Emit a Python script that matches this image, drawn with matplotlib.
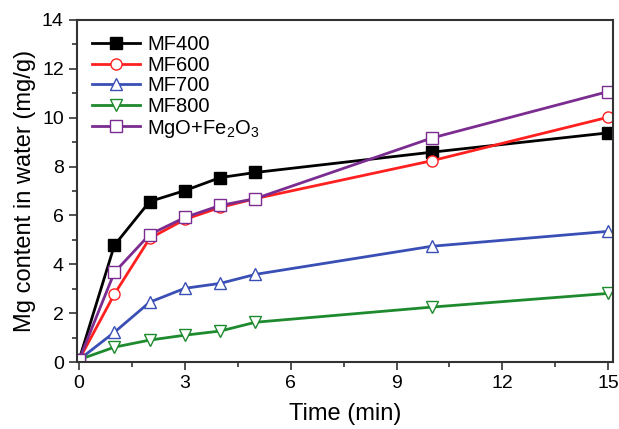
import matplotlib
matplotlib.use("Agg")
import matplotlib.pyplot as plt
from matplotlib.ticker import MultipleLocator

plt.rcParams['font.family'] = ['Liberation Sans', 'DejaVu Sans']
plt.rcParams['mathtext.fontset'] = 'custom'
plt.rcParams['mathtext.rm'] = 'Liberation Sans'

time = [0, 1, 2, 3, 4, 5, 10, 15]
mf400 = [0.1, 4.78, 6.57, 7.02, 7.55, 7.76, 8.59, 9.38]
mf600 = [0.1, 2.78, 5.06, 5.84, 6.33, 6.69, 8.24, 10.02]
mf700 = [0.1, 1.22, 2.45, 3.02, 3.22, 3.59, 4.74, 5.35]
mf800 = [0.1, 0.61, 0.90, 1.10, 1.27, 1.63, 2.25, 2.81]
mgo = [0.1, 3.67, 5.22, 5.92, 6.41, 6.69, 9.17, 11.07]
labels = ['MF400', 'MF600', 'MF700', 'MF800', r'MgO+Fe$_2$O$_3$']

fig = plt.figure(figsize=(6.19, 4.29), dpi=100)
ax = fig.add_axes([0.1244, 0.156, 0.8666, 0.7974])

lw = 2.0
ms = 8
ax.plot(time, mf400, color='black', marker='s', ms=ms, lw=lw, mfc='black', mec='black', label=labels[0])
ax.plot(time, mf600, color='#ff2020', marker='o', ms=ms, lw=lw, mfc='white', mec='#ff2020', label=labels[1])
ax.plot(time, mf700, color='#3a4fb5', marker='^', ms=ms + 1, lw=lw, mfc='white', mec='#3a4fb5', label=labels[2])
ax.plot(time, mf800, color='#1e8a2e', marker='v', ms=ms + 1, lw=lw, mfc='white', mec='#1e8a2e', label=labels[3])
ax.plot(time, mgo, color='#7b2c90', marker='s', ms=ms, lw=lw, mfc='white', mec='#7b2c90', label=labels[4])

ax.set_xlim(-0.06, 15.15)
ax.set_ylim(0, 14)
ax.xaxis.set_major_locator(MultipleLocator(3))
ax.xaxis.set_minor_locator(MultipleLocator(1.5))
ax.yaxis.set_major_locator(MultipleLocator(2))
ax.yaxis.set_minor_locator(MultipleLocator(1))
ax.tick_params(which='both', direction='out', top=False, right=False, labelsize=14, width=1.2, color='#333333')
ax.tick_params(which='major', length=6)
ax.tick_params(which='minor', length=3.5)
for s in ax.spines.values():
    s.set_linewidth(1.5)
    s.set_color('#333333')

ax.set_xlabel('Time (min)', fontsize=17, labelpad=8)
ax.set_ylabel('Mg content in water (mg/g)', fontsize=17)

leg = ax.legend(loc='upper left', frameon=False, fontsize=14.5, handlelength=2.4,
                handletextpad=0.35, labelspacing=0.08, borderaxespad=0.35)

fig.savefig('out.png', dpi=100)
